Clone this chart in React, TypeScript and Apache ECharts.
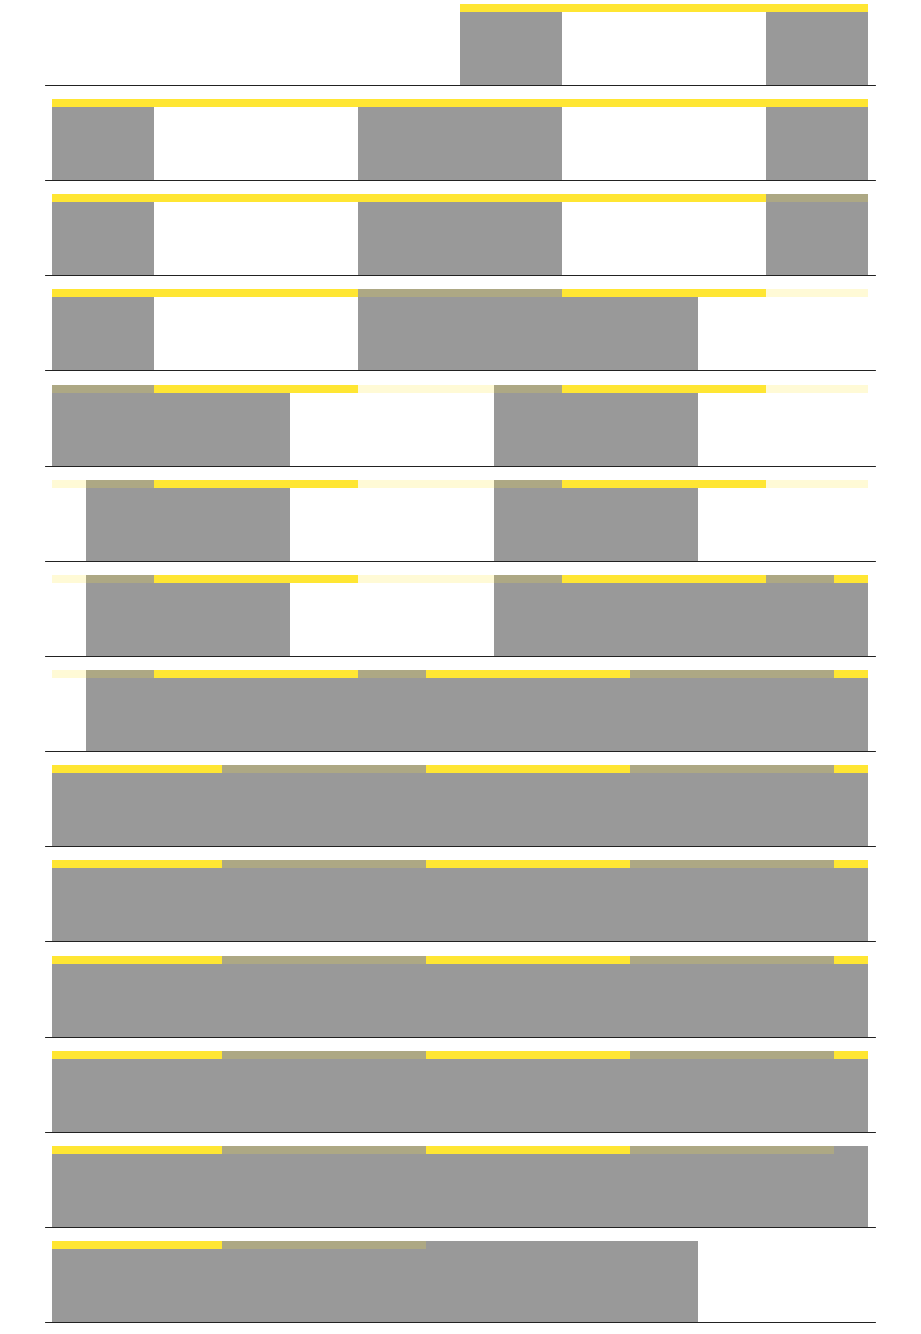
import React, { useEffect, useRef } from "react";
import * as echarts from "echarts";

// Each row: gray blocks [start, end] in slot units (0..24)
const grayBlocks: [number, number][][] = [
  [[12, 15], [21, 24]],
  [[0, 3], [9, 15], [21, 24]],
  [[0, 3], [9, 15], [21, 24]],
  [[0, 3], [9, 19]],
  [[0, 7], [13, 19]],
  [[1, 7], [13, 19]],
  [[1, 7], [13, 24]],
  [[1, 24]],
  [[0, 24]],
  [[0, 24]],
  [[0, 24]],
  [[0, 24]],
  [[0, 24]],
  [[0, 19]],
];

// Strong (opaque) yellow strip segments per row
const strongStrips: [number, number][][] = [
  [[12, 24]],
  [[0, 24]],
  [[0, 21]],
  [[0, 9], [15, 21]],
  [[3, 9], [15, 21]],
  [[3, 9], [15, 21]],
  [[3, 9], [15, 21], [23, 24]],
  [[3, 9], [11, 17], [23, 24]],
  [[0, 5], [11, 17], [23, 24]],
  [[0, 5], [11, 17], [23, 24]],
  [[0, 5], [11, 17], [23, 24]],
  [[0, 5], [11, 17], [23, 24]],
  [[0, 5], [11, 17]],
  [[0, 5]],
];

// Faint (translucent) yellow strip segments per row
const faintStrips: [number, number][][] = [
  [],
  [],
  [[21, 24]],
  [[9, 15], [21, 24]],
  [[0, 3], [9, 15], [21, 24]],
  [[0, 3], [9, 15], [21, 24]],
  [[0, 3], [9, 15], [21, 23]],
  [[0, 3], [9, 11], [17, 23]],
  [[5, 11], [17, 23]],
  [[5, 11], [17, 23]],
  [[5, 11], [17, 23]],
  [[5, 11], [17, 23]],
  [[5, 11], [17, 23]],
  [[5, 11]],
];

const GRAY = "#999999";
const YELLOW = "#FFE633";
const YELLOW_FAINT = "rgba(255,230,51,0.2)";

export default function App() {
  const ref = useRef<HTMLDivElement>(null);

  useEffect(() => {
    if (!ref.current) return;
    const chart = echarts.init(ref.current, null, { renderer: "svg" });

    const rowCount = grayBlocks.length;
    const pitch = 95.15;
    const rowHeight = 81;
    const grids: any[] = [];
    const xAxes: any[] = [];
    const yAxes: any[] = [];
    const series: any[] = [];

    const blockRender = (fill: string) => (params: any, api: any) => {
      const s = api.value(0);
      const e = api.value(1);
      const p0 = api.coord([s, 1]);
      const p1 = api.coord([e, 0]);
      const x0 = Math.round(p0[0]);
      const x1 = Math.round(p1[0]);
      return {
        type: "rect",
        shape: { x: x0, y: p0[1], width: x1 - x0, height: p1[1] - p0[1] },
        style: { fill },
      };
    };
    const stripRender = (fill: string) => (params: any, api: any) => {
      const s = api.value(0);
      const e = api.value(1);
      const p0 = api.coord([s, 1]);
      const p1 = api.coord([e, 1]);
      const x0 = Math.round(p0[0]);
      const x1 = Math.round(p1[0]);
      return {
        type: "rect",
        shape: { x: x0, y: p0[1], width: x1 - x0, height: 8 },
        style: { fill },
      };
    };

    for (let i = 0; i < rowCount; i++) {
      grids.push({
        left: 45.5,
        width: 830,
        top: Math.round(4 + i * pitch),
        height: rowHeight,
      });
      xAxes.push({
        type: "value",
        gridIndex: i,
        min: -0.19,
        max: 24.22,
        axisLine: { show: true, onZero: false, lineStyle: { color: "#222222", width: 1 } },
        axisTick: { show: false },
        axisLabel: { show: false },
        splitLine: { show: false },
      });
      yAxes.push({
        type: "value",
        gridIndex: i,
        min: 0,
        max: 1,
        show: false,
        splitLine: { show: false },
      });
      series.push({
        type: "custom",
        xAxisIndex: i,
        yAxisIndex: i,
        z: 1,
        encode: { x: [0, 1] },
        renderItem: blockRender(GRAY),
        data: grayBlocks[i],
      });
      series.push({
        type: "custom",
        xAxisIndex: i,
        yAxisIndex: i,
        z: 2,
        encode: { x: [0, 1] },
        renderItem: stripRender(YELLOW),
        data: strongStrips[i],
      });
      series.push({
        type: "custom",
        xAxisIndex: i,
        yAxisIndex: i,
        z: 2,
        encode: { x: [0, 1] },
        renderItem: stripRender(YELLOW_FAINT),
        data: faintStrips[i],
      });
    }

    chart.setOption({
      animation: false,
      backgroundColor: "#ffffff",
      grid: grids,
      xAxis: xAxes,
      yAxis: yAxes,
      series,
    });

    return () => chart.dispose();
  }, []);

  return (
    <div
      ref={ref}
      style={{ position: "absolute", left: 0, top: 0, width: 921, height: 1334 }}
    />
  );
}
